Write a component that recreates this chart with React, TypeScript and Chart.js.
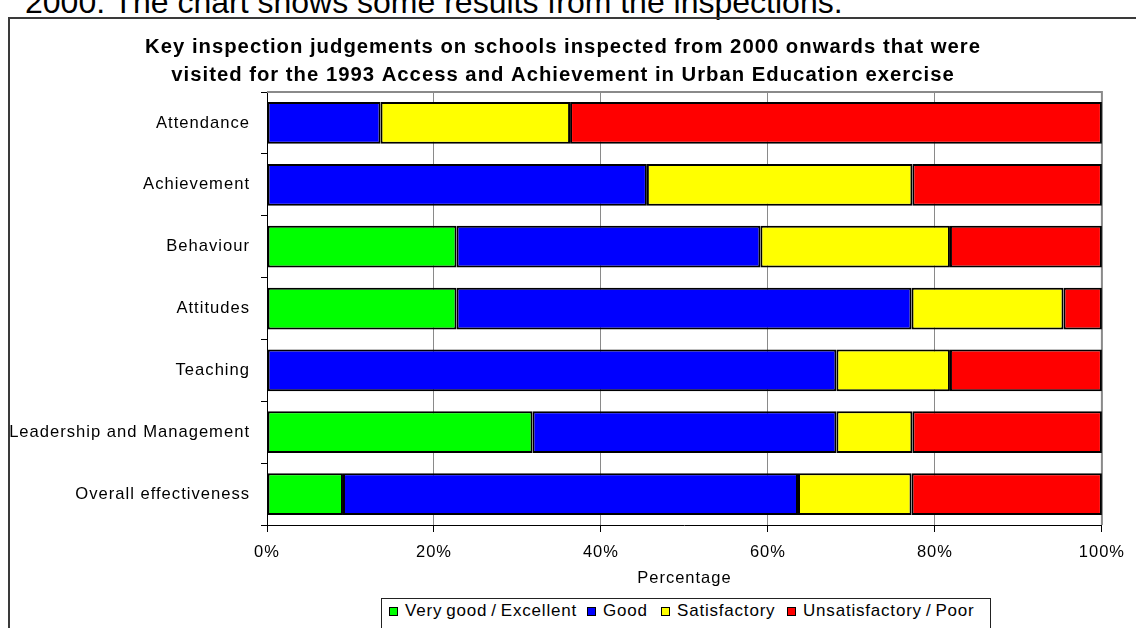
import React, { useEffect, useRef } from 'react';
import { Chart, registerables } from 'chart.js';

Chart.register(...registerables);

const categories = [
  'Attendance',
  'Achievement',
  'Behaviour',
  'Attitudes',
  'Teaching',
  'Leadership and Management',
  'Overall effectiveness',
];

const seriesNames = ['Very good / Excellent', 'Good', 'Satisfactory', 'Unsatisfactory / Poor'];
const seriesColors = ['#00FF00', '#0000FF', '#FFFF00', '#FF0000'];

const veryGood = [0, 0, 22.7, 22.7, 0, 31.8, 9.1];
const good = [13.6, 45.5, 36.4, 54.5, 68.2, 36.4, 54.5];
const satisfactory = [22.7, 31.8, 22.7, 18.2, 13.6, 9.1, 13.6];
const poor = [63.7, 22.7, 18.2, 4.6, 18.2, 22.7, 22.8];

const xTickValues = [0, 20, 40, 60, 80, 100];

const titleLines = [
  'Key inspection judgements on schools inspected from 2000 onwards that were',
  'visited for the 1993 Access and Achievement in Urban Education exercise',
];
const xAxisTitle = 'Percentage';
const pageText = '2000. The chart shows some results from the inspections.';

const FONT = '"Liberation Sans", Arial, Helvetica, sans-serif';

const spacingPlugin = {
  id: 'letterSpacing',
  beforeUpdate(chart: any) {
    chart.ctx.letterSpacing = '1px';
  },
  beforeLayout(chart: any) {
    chart.ctx.letterSpacing = '1px';
  },
  afterLayout(chart: any) {
    // let the long category labels extend left of the axis box without clipping
    if (chart.scales.y) chart.scales.y.left = 0;
  },
  beforeDraw(chart: any) {
    chart.ctx.letterSpacing = '1px';
  },
};

const framePlugin = {
  id: 'plotFrame',
  beforeDatasetsDraw(chart: any) {
    const { ctx, chartArea: a } = chart;
    ctx.save();
    ctx.strokeStyle = '#8a8a8a';
    ctx.lineWidth = 2;
    ctx.beginPath();
    ctx.moveTo(a.left, a.top);
    ctx.lineTo(a.right, a.top);
    ctx.lineTo(a.right, a.bottom);
    ctx.stroke();
    ctx.restore();
  },
};

const seriesData = [veryGood, good, satisfactory, poor];

function ChartCanvas() {
  const ref = useRef<HTMLCanvasElement | null>(null);
  useEffect(() => {
    if (!ref.current) return;
    const chart = new Chart(ref.current, {
      type: 'bar',
      data: {
        labels: categories,
        datasets: seriesNames.map((name, i) => ({
          label: name,
          data: seriesData[i],
          backgroundColor: seriesColors[i],
          borderColor: '#000000',
          borderWidth: 2,
          borderSkipped: false,
          barPercentage: 0.675,
          categoryPercentage: 1,
        })),
      },
      options: {
        indexAxis: 'y',
        responsive: false,
        animation: false,
        devicePixelRatio: 1,
        layout: { padding: { left: 16, right: 26, top: 15, bottom: 38 } },
        plugins: {
          legend: { display: false },
          tooltip: { enabled: false },
          title: {
            display: true,
            text: titleLines,
            color: '#000',
            font: { family: FONT, size: 20.3, weight: 'bold', lineHeight: 1.4 },
            padding: { top: 18, bottom: 2.2 },
          },
        },
        scales: {
          x: {
            stacked: true,
            min: 0,
            max: 100,
            afterFit(scale: any) {
              scale.height = 65;
            },
            afterBuildTicks(scale: any) {
              scale.ticks = xTickValues.map((v) => ({ value: v }));
            },
            ticks: {
              color: '#000',
              padding: 11,
              font: { family: FONT, size: 16.5 },
              callback: (v: any) => v + '%',
            },
            grid: {
              color: '#8a8a8a',
              lineWidth: 1,
              tickLength: 7,
              tickColor: '#000',
            },
            border: { color: '#000', width: 1 },
            title: {
              display: true,
              text: xAxisTitle,
              color: '#000',
              font: { family: FONT, size: 16.5 },
              padding: { top: 0, bottom: 2 },
            },
          },
          y: {
            stacked: true,
            afterFit(scale: any) {
              scale.width = 251;
            },
            ticks: {
              color: '#000',
              padding: 11,
              font: { family: FONT, size: 16.6 },
            },
            grid: {
              drawOnChartArea: false,
              offset: true,
              tickLength: 6,
              tickColor: '#000',
            },
            border: { color: '#000', width: 1 },
          },
        },
      },
      plugins: [spacingPlugin, framePlugin],
    } as any);
    return () => chart.destroy();
  }, []);
  return (
    <canvas
      ref={ref}
      width={1136}
      height={628}
      style={{ position: 'absolute', left: 0, top: 0, width: 1136, height: 628 }}
    />
  );
}

const legendItemWidths = [198, 74, 126, 200];

export default function App() {
  return (
    <div
      style={{
        position: 'fixed',
        left: 0,
        top: 0,
        width: 1136,
        height: 628,
        overflow: 'hidden',
        background: '#fff',
      }}
    >
      <div
        style={{
          position: 'absolute',
          left: 25,
          top: -14,
          font: `32px ${FONT}`,
          lineHeight: '32px',
          whiteSpace: 'nowrap',
          color: '#000',
        }}
      >
        {pageText}
      </div>
      <div
        style={{
          position: 'absolute',
          left: 8,
          top: 17,
          width: 1400,
          height: 900,
          borderLeft: '2px solid #3a3a3a',
          borderTop: '2px solid #3a3a3a',
        }}
      />
      <ChartCanvas />
      <div
        style={{
          position: 'absolute',
          left: 381,
          top: 598,
          width: 610,
          height: 40,
          boxSizing: 'border-box',
          border: '1px solid #222',
          background: '#fff',
          paddingLeft: 7,
          paddingTop: 2,
          display: 'flex',
          alignItems: 'flex-start',
          font: `17px ${FONT}`,
          letterSpacing: '0.8px',
          wordSpacing: '-1.5px',
          lineHeight: '20px',
          color: '#000',
          whiteSpace: 'nowrap',
        }}
      >
        {seriesNames.map((name, i) => (
          <span
            key={name}
            style={{ display: 'inline-flex', alignItems: 'center', width: legendItemWidths[i], height: 20 }}
          >
            <span
              style={{
                display: 'inline-block',
                width: 7,
                height: 7,
                border: '1px solid #000',
                background: seriesColors[i],
                marginRight: 7,
                flex: 'none',
              }}
            />
            {name}
          </span>
        ))}
      </div>
    </div>
  );
}
